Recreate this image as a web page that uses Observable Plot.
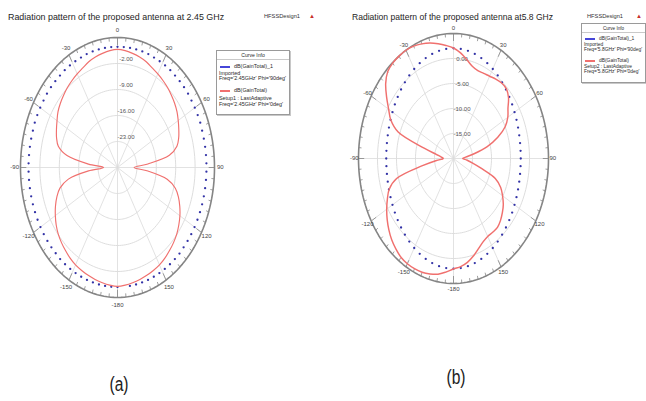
<!DOCTYPE html>
<html><head><meta charset="utf-8">
<script src="https://cdn.jsdelivr.net/npm/d3@7"></script>
<script src="https://cdn.jsdelivr.net/npm/@observablehq/plot@0.6"></script>
<style>
body{margin:0;background:#fff;font-family:"Liberation Sans",Arial,sans-serif;}
#page{position:relative;width:646px;height:401px;overflow:hidden;background:#fff;}
.abs{position:absolute;white-space:nowrap;line-height:1;}
.title{color:#1e1e1e;}
.hfss{font-size:5.7px;color:#333;}
.logo{font-size:6px;color:#c8302c;}
.legend{position:absolute;border:1px solid #9a9a9a;box-shadow:1px 1px 0 #c8c8c8;background:#fff;}
.legend .row{position:absolute;white-space:nowrap;line-height:1;color:#2a2a2a;transform:translateY(-50%);}
.legend .sw{position:absolute;height:2px;transform:translateY(-50%);}
.legend .sep{position:absolute;left:0;right:0;height:0;border-top:1px solid #c9c9c9;}
.cap{position:absolute;font-size:20px;color:#222;transform:translate(-50%,-50%) scaleX(0.78);line-height:1;}
.chart{position:absolute;}
</style></head><body><div id="page"></div>
<script>
// ---------------- DATA ----------------
// (a) 2.45 GHz  — radial scale -30 .. 5 dB
const ringsA = [-23, -16, -9, -2];
const ringLabelsA = ["-23.00", "-16.00", "-9.00", "-2.00"];
const anglesA = [-180,-175,-170,-165,-160,-155,-150,-145,-140,-135,-130,-125,-120,-115,-110,-105,-100,-95,
  -90,-85,-80,-75,-70,-65,-60,-55,-50,-45,-40,-35,-30,-25,-20,-15,-10,-5,
  0,5,10,15,20,25,30,35,40,45,50,55,60,65,70,75,80,85,
  90,95,100,105,110,115,120,125,130,135,140,145,150,155,160,165,170,175];
const redA = [2.0,1.8,1.5,1.2,0.9,0.6,0.3,-0.2,-0.8,-1.4,-2.1,-3.0,-4.1,-5.3,-6.7,-8.5,-12.0,-19.5,
  -25.0,-19.5,-11.5,-7.9,-6.6,-5.7,-4.8,-3.8,-3.1,-2.5,-1.9,-1.4,-0.9,-0.4,0.3,0.8,1.2,1.6,
  1.8,1.6,1.2,0.8,0.3,-0.4,-0.9,-1.4,-1.9,-2.5,-3.1,-3.8,-4.7,-5.6,-6.5,-7.8,-11.0,-19.0,
  -24.0,-19.0,-11.8,-8.4,-6.6,-5.2,-4.0,-3.0,-2.1,-1.4,-0.8,-0.2,0.3,0.6,0.9,1.2,1.5,1.8];
const dotAnglesA = [-180,-176,-172,-168,-164,-160,-156,-152,-148,-144,-140,-136,-132,-128,-124,-120,-116,-112,
  -108,-104,-100,-96,-92,-88,-84,-80,-76,-72,-68,-64,-60,-56,-52,-48,-44,-40,-36,-32,-28,-24,-20,-16,-12,-8,-4,
  0,4,8,12,16,20,24,28,32,36,40,44,48,52,56,60,64,68,72,76,80,84,88,92,96,100,104,108,112,
  116,120,124,128,132,136,140,144,148,152,156,160,164,168,172,176];
const blueA = [2.2,2.2,2.2,2.2,2.2,2.2,2.2,2.2,2.2,2.2,2.2,2.1,2.1,2.1,2.1,2.1,2.1,2.1,
  2.1,2.1,2.1,2.1,2.1,2.1,2.1,2.1,2.1,2.1,2.2,2.2,2.2,2.2,2.3,2.3,2.3,2.3,2.4,2.4,2.4,2.4,2.5,2.5,2.5,2.5,2.5,
  2.5,2.5,2.5,2.5,2.5,2.5,2.4,2.4,2.4,2.4,2.3,2.3,2.3,2.3,2.2,2.2,2.2,2.2,2.1,2.1,2.1,2.1,2.1,2.1,2.1,2.1,2.1,2.1,2.1,
  2.1,2.1,2.1,2.1,2.1,2.2,2.2,2.2,2.2,2.2,2.2,2.2,2.2,2.2,2.2];

// (b) 5.8 GHz — radial scale -20 .. 5 dB
const ringsB = [-15, -10, -5, 0];
const ringLabelsB = ["-15.00", "-10.00", "-5.00", "0.00"];
const anglesB = anglesA;
const redB = [2.1,2.8,3.5,3.9,4.2,4.3,4.3,4.1,3.6,3.0,2.2,1.3,0.3,-0.8,-2.0,-4.5,-11.7,-15.5,
  -17.3,-16.8,-15.5,-12.0,-4.5,-1.8,-0.3,1.5,3.3,4.5,4.9,5.0,5.0,4.8,4.4,3.9,3.3,2.7,
  2.1,1.2,0.1,-0.9,-1.3,-1.2,-1.0,-0.6,-0.3,-0.3,-1.1,-2.5,-3.5,-5.0,-7.6,-10.8,-14.5,-16.8,
  -17.6,-16.5,-15.0,-12.5,-8.3,-6.3,-5.1,-4.0,-3.2,-2.5,-2.0,-2.0,-2.0,-1.6,-0.8,0.2,1.1,1.7];
const dotAnglesB = anglesA;
const blueB = [2.05,2.0,1.87,1.65,1.37,1.04,0.67,0.28,-0.1,-0.48,-0.84,-1.16,-1.46,-1.71,-1.92,-2.09,-2.21,-2.28,
  -2.3,-2.28,-2.21,-2.09,-1.92,-1.71,-1.46,-1.16,-0.84,-0.48,-0.1,0.28,0.67,1.04,1.37,1.65,1.87,2.0,
  2.05,2.0,1.87,1.65,1.37,1.04,0.67,0.28,-0.1,-0.48,-0.84,-1.16,-1.46,-1.71,-1.92,-2.09,-2.21,-2.28,
  -2.3,-2.28,-2.21,-2.09,-1.92,-1.71,-1.46,-1.16,-0.84,-0.48,-0.1,0.28,0.67,1.04,1.37,1.65,1.87,2.0];

const angleLabels = ["0","30","60","90","120","150","-180","-150","-120","-90","-60","-30"];

// --------------- DRAWING ---------------
const rad = a => a * Math.PI / 180;
function polar(o) {
  const {angles, red, dotAngles, blue, lo, hi, rings, ringLabels, W, H, rx, ry, labelR, ringDx, ringDy, redWidth} = o;
  const nr = v => (v - lo) / (hi - lo);
  const X = d => nr(d.v) * Math.sin(rad(d.a));
  const Y = d => nr(d.v) * Math.cos(rad(d.a));
  const circ = d3.range(0, 361, 2);
  const ringPts = rings.flatMap(v => circ.map(a => ({a, v})));
  const outer = circ.map(a => ({a, v: hi}));
  const spokes = d3.range(0, 360, 30);
  const ticks = d3.range(0, 360, 5);
  const redData = angles.map((a, i) => ({a, v: red[i]}));
  const blueData = dotAngles.map((a, i) => ({a, v: blue[i]}));
  const ringLab = rings.map((v, i) => ({v, t: ringLabels[i]}));
  return Plot.plot({
    width: W, height: H, margin: 0,
    x: {domain: [-W / 2 / rx, W / 2 / rx], axis: null},
    y: {domain: [-H / 2 / ry, H / 2 / ry], axis: null},
    style: {background: "transparent", overflow: "visible"},
    marks: [
      Plot.line(ringPts, {x: X, y: Y, z: "v", stroke: "#d9d9d9", strokeWidth: 0.9}),
      Plot.link(spokes, {x1: () => 0, y1: () => 0, x2: a => Math.sin(rad(a)), y2: a => Math.cos(rad(a)), stroke: "#dadada", strokeWidth: 0.8}),
      Plot.link(ticks, {x1: a => Math.sin(rad(a)), y1: a => Math.cos(rad(a)),
        x2: a => (a % 30 === 0 ? 0.94 : 0.972) * Math.sin(rad(a)), y2: a => (a % 30 === 0 ? 0.94 : 0.972) * Math.cos(rad(a)),
        stroke: "#777", strokeWidth: 0.7}),
      Plot.line(outer, {x: X, y: Y, stroke: "#858585", strokeWidth: 1.6}),
      Plot.text(angleLabels, {x: t => labelR * Math.sin(rad(+t)), y: t => labelR * Math.cos(rad(+t)), text: t => t,
        fontSize: 6, fill: "#444", fontFamily: "Liberation Sans, Arial, sans-serif"}),
      Plot.text(ringLab, {x: () => 0, y: d => nr(d.v), text: "t", dx: ringDx, dy: ringDy,
        fontSize: 6, fill: "#555", fontFamily: "Liberation Sans, Arial, sans-serif"}),
      Plot.dot(blueData, {x: X, y: Y, r: 1.15, fill: "#3232a6", stroke: null}),
      Plot.line(redData, {x: X, y: Y, stroke: "#f0706e", strokeWidth: redWidth, curve: "catmull-rom-closed"})
    ]
  });
}

const page = document.getElementById("page");
function place(el, left, top) { el.classList.add("chart"); el.style.left = left + "px"; el.style.top = top + "px"; page.appendChild(el); }

// chart (a): centre (116.7,167) rx 97 ry 130
const WA = 240, HA = 300;
place(polar({angles: anglesA, red: redA, dotAngles: dotAnglesA, blue: blueA, lo: -30, hi: 5,
  rings: ringsA, ringLabels: ringLabelsA, W: WA, H: HA, rx: 97, ry: 130, labelR: 1.06, ringDx: 8.5, ringDy: -4, redWidth: 1.15}),
  116.7 - WA / 2, 167 - HA / 2);
// chart (b): centre (452.7,157.7) rx 95 ry 125
const WB = 240, HB = 290;
place(polar({angles: anglesB, red: redB, dotAngles: dotAnglesB, blue: blueB, lo: -20, hi: 5,
  rings: ringsB, ringLabels: ringLabelsB, W: WB, H: HB, rx: 95, ry: 125, labelR: 1.045, ringDx: 8.5, ringDy: 0.5, redWidth: 1.45}),
  452.7 - WB / 2, 157.7 - HB / 2);

// ---------- text: titles, legends, captions ----------
function txt(cls, s, left, top, extra) {
  const d = document.createElement("div");
  d.className = "abs " + cls; d.textContent = s;
  d.style.left = left + "px"; d.style.top = top + "px";
  if (extra) Object.assign(d.style, extra);
  page.appendChild(d); return d;
}
txt("title", "Radiation pattern of the proposed antenna at 2.45 GHz", 8, 12.5, {fontSize: "8.9px"});
txt("title", "Radiation pattern of the proposed antenna at5.8 GHz", 352, 12.5, {fontSize: "8.55px"});
txt("hfss", "HFSSDesign1", 264, 13.5);
txt("logo", "\u25B2", 309, 12.5);
txt("hfss", "HFSSDesign1", 587, 13.5);
txt("logo", "\u25B2", 636, 12.5);

function legend(left, top, w, h, fs, rows, lines) {
  const b = document.createElement("div");
  b.className = "legend";
  Object.assign(b.style, {left: left + "px", top: top + "px", width: w + "px", height: h + "px"});
  const hdr = document.createElement("div");
  hdr.className = "row"; hdr.textContent = "Curve Info";
  Object.assign(hdr.style, {left: "0", right: "0", textAlign: "center", top: rows[0] + "px", fontSize: (fs - 0.3) + "px"});
  b.appendChild(hdr);
  const sep = document.createElement("div"); sep.className = "sep"; sep.style.top = (rows[0] + 3.2) + "px"; b.appendChild(sep);
  lines.forEach((ln, i) => {
    const y = rows[i + 1];
    if (ln.color) {
      const s = document.createElement("div"); s.className = "sw";
      Object.assign(s.style, {left: "3px", width: "10px", top: y + "px", background: ln.color});
      b.appendChild(s);
    }
    const r = document.createElement("div"); r.className = "row"; r.textContent = ln.text;
    Object.assign(r.style, {left: (ln.color ? 17 : 2) + "px", top: y + "px", fontSize: fs + "px"});
    b.appendChild(r);
  });
  page.appendChild(b);
}
const legendA = [
  {text: "dB(GainTotal)_1", color: "#4646d8"},
  {text: "Imported"},
  {text: "Freq='2.45GHz' Phi='90deg'"},
  {text: "dB(GainTotal)", color: "#f0706e"},
  {text: "Setup1 : LastAdaptive"},
  {text: "Freq='2.45GHz' Phi='0deg'"}
];
const legendB = [
  {text: "dB(GainTotal)_1", color: "#4646d8"},
  {text: "Imported"},
  {text: "Freq='5.8GHz' Phi='90deg'"},
  {text: "dB(GainTotal)", color: "#f0706e"},
  {text: "Setup2 : LastAdaptive"},
  {text: "Freq='5.8GHz' Phi='0deg'"}
];
legend(216, 50, 72, 63, 5.4, [4.5, 16, 22.5, 28, 40, 48, 53.5], legendA);
legend(581, 23, 63, 58, 4.9, [5, 14.5, 21, 26, 37, 42.5, 47.5], legendB);

const c1 = document.createElement("div"); c1.className = "cap"; c1.textContent = "(a)"; c1.style.left = "119px"; c1.style.top = "384px"; page.appendChild(c1);
const c2 = document.createElement("div"); c2.className = "cap"; c2.textContent = "(b)"; c2.style.left = "456px"; c2.style.top = "377px"; page.appendChild(c2);
</script></body></html>
